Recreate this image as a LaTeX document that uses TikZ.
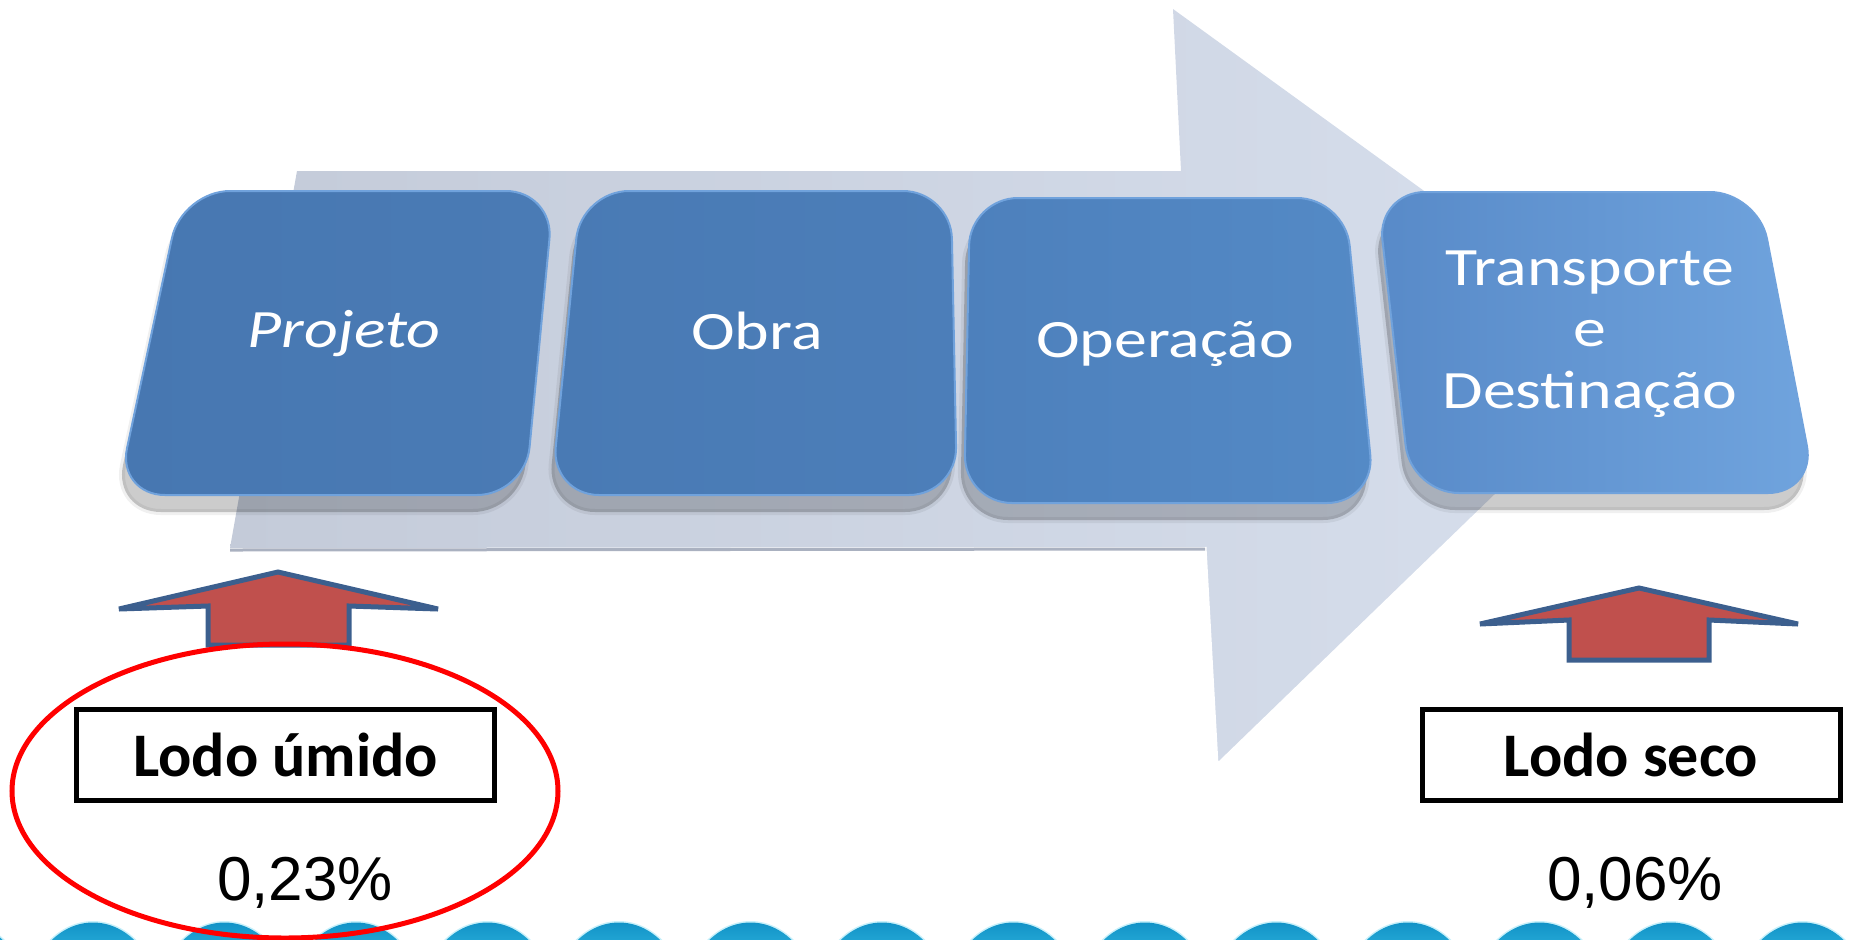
\documentclass[tikz,border=0pt]{standalone}
\usepackage{fontspec}
\usepackage{tikz}
\newfontfamily\stepfont[FakeStretch=1.22]{Carlito}
\newfontfamily\lodofont{Carlito}
\newfontfamily\pctfont{Liberation Sans}

\tikzset{
  stepshape/.style={draw={rgb,255:red,112;green,162;blue,220}, line width=1pt, rounded corners=24pt},
  stepshadow/.style={fill=black, fill opacity=0.2, draw=black, draw opacity=0.06, line width=3pt, rounded corners=24pt, shift={(-4,17)}},
  steptext/.style={text=white, inner sep=0pt, font=\stepfont\fontsize{27}{30.75}\selectfont},
  lodobox/.style={draw=black, line width=2.5pt, minimum width=209pt, minimum height=45.5pt, inner sep=0pt, font=\lodofont\bfseries\fontsize{31}{36}\selectfont},
  pcttext/.style={inner sep=0pt, anchor=base, font=\pctfont\fontsize{31}{36}\selectfont},
  uparrow/.style={fill={rgb,255:red,192;green,80;blue,77}, draw={rgb,255:red,60;green,95;blue,142}, line width=2.5pt, line join=miter},
  wavehump/.style={top color={rgb,255:red,12;green,140;blue,194}, bottom color={rgb,255:red,36;green,168;blue,214}},
}

\begin{document}
\begin{tikzpicture}[x=0.5pt,y=0.5pt,yscale=-1,xscale=1]
        \useasboundingbox (0,0) rectangle (1854,939);
        \clip (0,0) rectangle (1854,939);

        %Shape: Big Arrow 
        \draw [draw=none, left color={rgb,255:red,196;green,203;blue,217}, right color={rgb,255:red,215;green,223;blue,237}] (297,171) -- (1181,171) -- (1173,9) -- (1645,351) -- (1217,765) -- (1205,547) -- (230,548) -- cycle ;
        \draw [white, line width=1.5pt] (1645,351) -- (1217,765) -- (1205,547) ;
        \draw [color={rgb,255:red,170;green,177;blue,192}, line width=1.5pt] (1205,549) -- (230,550) ;

        %Shape: Step shadows 
        \path [stepshadow] (117,495) -- (182,191) -- (554,191) -- (525,495) -- cycle ;
        \path [stepshadow] (551,495) -- (581,191) -- (951,191) -- (957,495) -- cycle ;
        \path [stepshadow] (964,503) -- (970,198) -- (1345,198) -- (1375,503) -- cycle ;
        \path [stepshadow] (1411,493) -- (1377,192) -- (1758,192) -- (1816,493) -- cycle ;

        %Shape: Step boxes 
        \draw [stepshape, left color={rgb,255:red,71;green,119;blue,177}, right color={rgb,255:red,74;green,123;blue,181}] (117,495) -- (182,191) -- (554,191) -- (525,495) -- cycle ;
        \draw [stepshape, left color={rgb,255:red,73;green,122;blue,180}, right color={rgb,255:red,76;green,126;blue,185}] (551,495) -- (581,191) -- (951,191) -- (957,495) -- cycle ;
        \draw [stepshape, left color={rgb,255:red,77;green,128;blue,188}, right color={rgb,255:red,84;green,138;blue,198}] (964,503) -- (970,198) -- (1345,198) -- (1375,503) -- cycle ;
        \draw [stepshape, left color={rgb,255:red,88;green,138;blue,200}, right color={rgb,255:red,112;green,164;blue,222}] (1411,493) -- (1377,192) -- (1758,192) -- (1816,493) -- cycle ;

        % Text Node
        \node [steptext, anchor=base] (projeto) at (344,347) {\itshape Projeto};
        % Text Node
        \node [steptext, anchor=base] (obra) at (757,349) {Obra};
        % Text Node
        \node [steptext, anchor=base] (operacao) at (1165,357) {Operação};
        % Text Node
        \node [steptext, align=center] (transporte) at (1590,334) {Transporte\\e\\Destinação};

        %Shape: Up Arrows 
        \draw [uparrow] (278,572) -- (438,609) -- (349,606) -- (349,645) -- (208,645) -- (208,606) -- (119,609) -- cycle ;
        \draw [uparrow] (1639,588) -- (1798,624) -- (1709,620) -- (1709,660) -- (1569,660) -- (1569,620) -- (1480,624) -- cycle ;

        % Text Node
        \node [lodobox] (lodoUmido) at (285.5,755) {Lodo úmido};
        % Text Node
        \node [lodobox] (lodoSeco) at (1631,755) {Lodo seco};
        % Text Node
        \node [pcttext] (pctUmido) at (305,900) {0,23\%};
        % Text Node
        \node [pcttext] (pctSeco) at (1635,900) {0,06\%};

        %Shape: Waves 
        \foreach \k in {-1,...,14} {
          \pgfmathsetmacro{\c}{93+131.5*\k}
          \draw [color={rgb,255:red,200;green,240;blue,250}, line width=1.5pt] (\c-46,945) .. controls (\c-20,915) and (\c+20,915) .. (\c+46,945) ;
          \path [wavehump] (\c-46,945) .. controls (\c-20,915) and (\c+20,915) .. (\c+46,945) -- cycle ;
        }

        %Shape: Ellipse 
        \draw [red, line width=2.5pt] (285,791) ellipse [x radius=273, y radius=147] ;
\end{tikzpicture}
\end{document}
